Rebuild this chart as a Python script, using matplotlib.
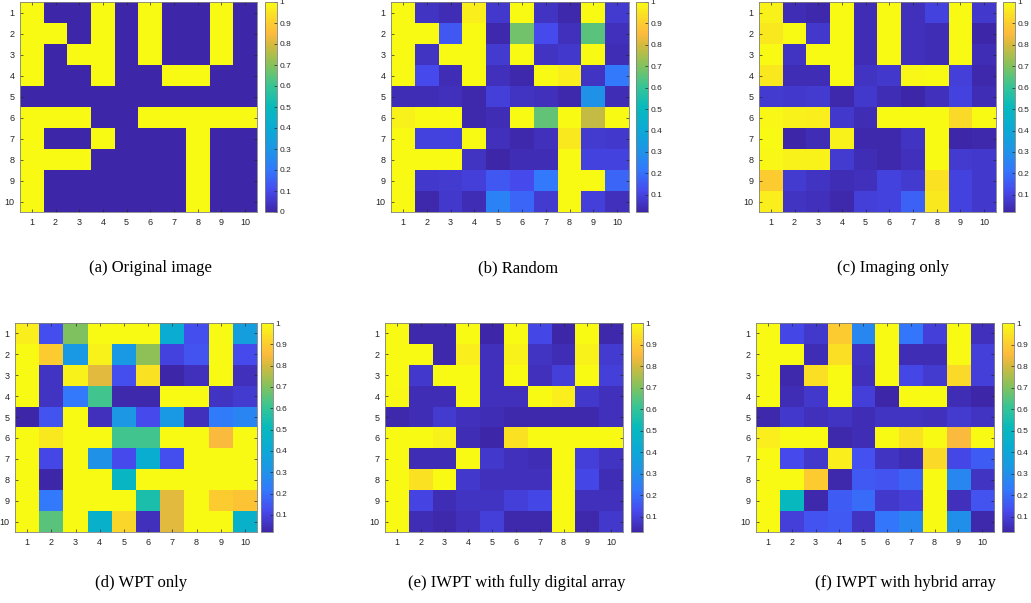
import numpy as np
import matplotlib
matplotlib.use('Agg')
import matplotlib.pyplot as plt
from matplotlib.colors import LinearSegmentedColormap

plt.rcParams['font.family'] = ['Liberation Sans', 'DejaVu Sans']

# parula-like colour map
parula = LinearSegmentedColormap.from_list('parula', [
    (0.00, (0.2422, 0.1504, 0.6603)),
    (0.10, (0.2780, 0.2900, 0.9300)),
    (0.20, (0.2000, 0.4700, 0.9900)),
    (0.30, (0.1100, 0.5900, 0.9000)),
    (0.40, (0.0400, 0.6700, 0.8300)),
    (0.50, (0.0300, 0.7300, 0.7400)),
    (0.60, (0.2200, 0.7700, 0.5800)),
    (0.70, (0.5200, 0.7600, 0.3600)),
    (0.80, (0.8400, 0.7300, 0.2400)),
    (0.85, (0.9900, 0.7300, 0.2400)),
    (0.90, (0.9900, 0.8000, 0.1900)),
    (1.00, (0.9769, 0.9839, 0.0805)),
])

original = [
    [1, 0, 0, 1, 0, 1, 0, 0, 1, 0],
    [1, 1, 0, 1, 0, 1, 0, 0, 1, 0],
    [1, 0, 1, 1, 0, 1, 0, 0, 1, 0],
    [1, 0, 0, 1, 0, 0, 1, 1, 0, 0],
    [0, 0, 0, 0, 0, 0, 0, 0, 0, 0],
    [1, 1, 1, 0, 0, 1, 1, 1, 1, 1],
    [1, 0, 0, 1, 0, 0, 0, 1, 0, 0],
    [1, 1, 1, 0, 0, 0, 0, 1, 0, 0],
    [1, 0, 0, 0, 0, 0, 0, 1, 0, 0],
    [1, 0, 0, 0, 0, 0, 0, 1, 0, 0],
]

random_bf = [
    [1.00, 0.06, 0.04, 0.97, 0.07, 1.00, 0.06, 0.03, 1.00, 0.08],
    [1.00, 1.00, 0.15, 1.00, 0.03, 0.68, 0.12, 0.05, 0.65, 0.05],
    [1.00, 0.06, 1.00, 1.00, 0.08, 1.00, 0.06, 0.07, 1.00, 0.04],
    [1.00, 0.12, 0.04, 1.00, 0.05, 0.03, 1.00, 0.97, 0.06, 0.22],
    [0.04, 0.04, 0.05, 0.03, 0.09, 0.06, 0.05, 0.03, 0.30, 0.04],
    [0.98, 1.00, 1.00, 0.03, 0.04, 1.00, 0.66, 1.00, 0.78, 1.00],
    [1.00, 0.10, 0.10, 1.00, 0.05, 0.03, 0.05, 0.96, 0.08, 0.07],
    [1.00, 1.00, 1.00, 0.06, 0.02, 0.04, 0.04, 1.00, 0.10, 0.10],
    [1.00, 0.07, 0.08, 0.09, 0.15, 0.12, 0.22, 1.00, 1.00, 0.18],
    [1.00, 0.03, 0.07, 0.04, 0.25, 0.18, 0.08, 1.00, 0.09, 0.05],
]

imaging_only = [
    [0.98, 0.04, 0.03, 1.00, 0.04, 1.00, 0.05, 0.10, 1.00, 0.07],
    [0.96, 1.00, 0.07, 1.00, 0.04, 1.00, 0.05, 0.04, 1.00, 0.02],
    [1.00, 0.06, 1.00, 1.00, 0.04, 1.00, 0.05, 0.04, 1.00, 0.04],
    [0.96, 0.04, 0.04, 1.00, 0.06, 0.07, 0.99, 1.00, 0.09, 0.03],
    [0.08, 0.07, 0.08, 0.03, 0.07, 0.04, 0.02, 0.05, 0.10, 0.04],
    [0.99, 0.98, 0.97, 0.07, 0.04, 1.00, 1.00, 1.00, 0.93, 1.00],
    [1.00, 0.02, 0.04, 0.98, 0.03, 0.03, 0.06, 1.00, 0.02, 0.03],
    [0.99, 0.98, 0.98, 0.08, 0.04, 0.03, 0.05, 1.00, 0.08, 0.07],
    [0.90, 0.08, 0.06, 0.04, 0.05, 0.10, 0.08, 0.95, 0.10, 0.07],
    [0.97, 0.06, 0.05, 0.03, 0.09, 0.10, 0.17, 0.96, 0.10, 0.07],
]

wpt_only = [
    [0.97, 0.13, 0.70, 1.00, 1.00, 1.00, 0.42, 0.13, 1.00, 0.35],
    [1.00, 0.90, 0.33, 0.98, 0.33, 0.72, 0.10, 0.14, 1.00, 0.12],
    [1.00, 0.06, 0.98, 0.82, 0.13, 0.95, 0.02, 0.05, 1.00, 0.05],
    [1.00, 0.06, 0.22, 0.62, 0.03, 0.03, 1.00, 1.00, 0.06, 0.08],
    [0.02, 0.14, 1.00, 0.05, 0.32, 0.12, 0.33, 0.05, 0.23, 0.26],
    [1.00, 0.96, 1.00, 1.00, 0.62, 0.62, 1.00, 1.00, 0.85, 1.00],
    [1.00, 0.11, 1.00, 0.30, 0.12, 0.43, 0.13, 1.00, 1.00, 1.00],
    [1.00, 0.02, 1.00, 1.00, 0.48, 1.00, 1.00, 1.00, 1.00, 1.00],
    [1.00, 0.22, 1.00, 1.00, 1.00, 0.55, 0.82, 1.00, 0.90, 0.88],
    [1.00, 0.65, 1.00, 0.45, 0.92, 0.05, 0.82, 1.00, 1.00, 0.45],
]

iwpt_digital = [
    [1.00, 0.04, 0.04, 1.00, 0.03, 1.00, 0.12, 0.03, 1.00, 0.04],
    [1.00, 1.00, 0.04, 0.97, 0.06, 0.98, 0.07, 0.05, 0.98, 0.09],
    [1.00, 0.08, 1.00, 1.00, 0.06, 1.00, 0.06, 0.10, 1.00, 0.10],
    [0.99, 0.05, 0.05, 1.00, 0.06, 0.06, 1.00, 0.97, 0.08, 0.06],
    [0.04, 0.05, 0.09, 0.06, 0.05, 0.04, 0.04, 0.04, 0.04, 0.06],
    [1.00, 1.00, 0.98, 0.05, 0.03, 0.95, 1.00, 1.00, 1.00, 1.00],
    [1.00, 0.05, 0.05, 1.00, 0.08, 0.06, 0.05, 1.00, 0.10, 0.07],
    [1.00, 0.95, 1.00, 0.08, 0.06, 0.06, 0.06, 1.00, 0.12, 0.05],
    [1.00, 0.11, 0.05, 0.07, 0.07, 0.10, 0.12, 1.00, 0.06, 0.06],
    [1.00, 0.05, 0.04, 0.06, 0.10, 0.04, 0.04, 1.00, 0.04, 0.08],
]

iwpt_hybrid = [
    [1.00, 0.12, 0.08, 0.90, 0.27, 1.00, 0.22, 0.10, 1.00, 0.06],
    [1.00, 1.00, 0.05, 0.94, 0.07, 1.00, 0.05, 0.05, 1.00, 0.10],
    [1.00, 0.04, 0.94, 1.00, 0.06, 1.00, 0.12, 0.09, 0.93, 0.10],
    [1.00, 0.05, 0.08, 1.00, 0.10, 0.03, 1.00, 1.00, 0.05, 0.03],
    [0.04, 0.08, 0.06, 0.07, 0.05, 0.07, 0.07, 0.06, 0.09, 0.07],
    [0.97, 1.00, 1.00, 0.04, 0.05, 1.00, 0.95, 1.00, 0.85, 1.00],
    [1.00, 0.13, 0.08, 0.97, 0.14, 0.07, 0.05, 0.93, 0.12, 0.17],
    [1.00, 1.00, 0.90, 0.04, 0.16, 0.15, 0.18, 1.00, 0.27, 0.07],
    [1.00, 0.50, 0.04, 0.17, 0.20, 0.08, 0.10, 1.00, 0.06, 0.15],
    [1.00, 0.10, 0.15, 0.16, 0.07, 0.22, 0.27, 1.00, 0.30, 0.04],
]

captions = ['(a) Original image', '(b) Random', '(c) Imaging only',
            '(d) WPT only', '(e) IWPT with fully digital array',
            '(f) IWPT with hybrid array']
panels = [original, random_bf, imaging_only, wpt_only, iwpt_digital, iwpt_hybrid]

W, H = 1031, 603
fig = plt.figure(figsize=(W / 100, H / 100), dpi=100)

def box(x0, y0, x1, y1):
    return [x0 / W, 1 - y1 / H, (x1 - x0) / W, (y1 - y0) / H]

# pixel boxes: (axes left, axes right, cbar left, cbar right), row tops/bottoms
cols_top = [(20, 257, 265, 277), (391, 629, 636, 648), (759, 996, 1003, 1015)]
cols_bot = [(15, 257, 261, 273), (385, 623, 631, 643), (756, 994, 1002, 1014)]
rows = [(2, 212), (323, 532)]
cap_x = [150, 518, 893, 141, 517, 905]
cap_y = [268, 583]

edge = '#262626'
for i, data in enumerate(panels):
    r, c = divmod(i, 3)
    ax0, ax1, cb0, cb1 = (cols_top if r == 0 else cols_bot)[c]
    y0, y1 = rows[r]
    ax = fig.add_axes(box(ax0, y0, ax1, y1))
    z = np.array(data, dtype=float)
    im = ax.imshow(z, cmap=parula, aspect='auto', vmin=z.min(), vmax=z.max(),
                   extent=(0.5, 10.5, 10.5, 0.5), interpolation='nearest')
    ax.set_xticks(range(1, 11))
    ax.set_yticks(range(1, 11))
    ax.tick_params(direction='in', top=True, right=True, length=2.5, width=0.5,
                   labelsize=6.5, colors=edge, pad=4)
    for s in ax.spines.values():
        s.set_edgecolor('#808080')
        s.set_linewidth(0.6)

    cax = fig.add_axes(box(cb0, y0, cb1, y1))
    ticks = np.round(np.arange(0, 1.01, 0.1), 1) if i == 0 else np.round(np.arange(0.1, 1.01, 0.1), 1)
    cb = fig.colorbar(im, cax=cax, ticks=ticks)
    cb.ax.set_yticklabels([('%g' % t) for t in ticks])
    cb.ax.tick_params(direction='in', length=2.5, width=0.5, labelsize=6,
                      colors=edge, pad=2)
    cb.outline.set_edgecolor('#808080')
    cb.outline.set_linewidth(0.6)

    fig.text(cap_x[i] / W, 1 - cap_y[r] / H, captions[i], ha='center', va='center',
             fontsize=12, family='Liberation Serif')

fig.savefig('out.png', dpi=100)
